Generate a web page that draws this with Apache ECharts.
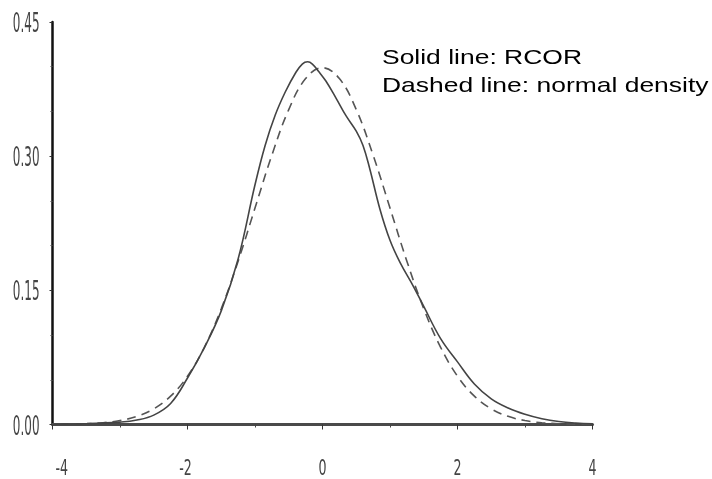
<!DOCTYPE html>
<html>
<head>
<meta charset="utf-8">
<script src="https://cdn.jsdelivr.net/npm/echarts@6/dist/echarts.min.js"></script>
<style>
html,body{margin:0;padding:0;background:#fff;}
#chart{width:712px;height:479px;}
</style>
</head>
<body>
<div id="chart"></div>
<script>
// Tick labels
var xTicks = [-4, -2, 0, 2, 4];
var yTicks = ["0.00", "0.15", "0.30", "0.45"];

// Solid line: RCOR density (x, y)
var rcorX = [-4.0,-3.5,-3.0,-2.75,-2.5,-2.25,-2.0,-1.75,-1.5,-1.25,-1.0,-0.85,-0.7,-0.55,-0.4,-0.3,-0.22,-0.15,-0.05,0.05,0.2,0.35,0.5,0.6,0.7,0.85,1.0,1.15,1.35,1.5,1.75,2.0,2.25,2.5,2.75,3.0,3.25,3.5,3.75,4.0];
var rcorY = [0.0003,0.0009,0.0027,0.0050,0.0105,0.0235,0.052,0.086,0.127,0.185,0.268,0.312,0.346,0.372,0.393,0.403,0.4055,0.403,0.394,0.384,0.365,0.345,0.328,0.312,0.286,0.241,0.206,0.181,0.154,0.132,0.096,0.070,0.0453,0.0287,0.0185,0.0115,0.0065,0.0033,0.0016,0.0008];

// Dashed line: normal density (x, y)
var normX = [-4.0,-3.75,-3.5,-3.25,-3.0,-2.75,-2.5,-2.25,-2.0,-1.75,-1.5,-1.25,-1.0,-0.75,-0.5,-0.25,0.0,0.25,0.5,0.75,1.0,1.25,1.5,1.75,2.0,2.25,2.5,2.75,3.0,3.25,3.5,3.75,4.0];
var normY = [0.0001,0.0004,0.0009,0.0020,0.0044,0.0091,0.0175,0.0317,0.0540,0.0863,0.1295,0.1826,0.2420,0.3011,0.3521,0.3867,0.3989,0.3867,0.3521,0.3011,0.2420,0.1826,0.1295,0.0863,0.0540,0.0317,0.0175,0.0091,0.0044,0.0020,0.0009,0.0004,0.0001];

var legendLines = ["Solid line: RCOR", "Dashed line: normal density"];

function pairs(xs, ys){ return xs.map(function(x,i){ return [x, ys[i]]; }); }

var tickFont = '14px "DejaVu Sans Condensed", "DejaVu Sans", sans-serif';
var legendFont = '21px "Liberation Sans", Arial, sans-serif';

var chart = echarts.init(document.getElementById('chart'), null, {renderer:'canvas'});
chart.setOption({
  animation: false,
  backgroundColor: '#ffffff',
  grid: {left: 52.5, right: 119.5, top: 22, bottom: 54.5, containLabel: false},
  xAxis: {
    type: 'value', min: -4, max: 4, interval: 2,
    axisLine: {show: true, onZero: false, lineStyle: {color: '#4a4a4a', width: 3}},
    axisTick: {show: true, inside: false, length: 5, lineStyle: {color: '#333', width: 1}},
    minorTick: {show: true, splitNumber: 2, length: 3, lineStyle: {color: '#444', width: 1}},
    splitLine: {show: false},
    axisLabel: {show: false}
  },
  yAxis: {
    type: 'value', min: 0, max: 0.45, interval: 0.15,
    axisLine: {show: true, onZero: false, lineStyle: {color: '#111', width: 2.5}},
    axisTick: {show: true, inside: false, length: 3, lineStyle: {color: '#333', width: 1}},
    minorTick: {show: true, splitNumber: 3, length: 2, lineStyle: {color: '#555', width: 1}},
    splitLine: {show: false},
    axisLabel: {show: false}
  },
  series: [
    {
      name: 'normal density', type: 'line', data: pairs(normX, normY),
      showSymbol: false, smooth: 0.4, z: 2,
      lineStyle: {color: '#555', width: 1.6, type: [9, 6]}
    },
    {
      name: 'RCOR', type: 'line', data: pairs(rcorX, rcorY),
      showSymbol: false, smooth: 0.4, z: 3,
      lineStyle: {color: '#444', width: 1.6, type: 'solid'}
    }
  ]
});

// Tick labels (tall, narrow lettering as in the original), placed through the axis scales
var g = [];
var axisY = chart.convertToPixel({yAxisIndex: 0}, 0);
var axisX = chart.convertToPixel({xAxisIndex: 0}, -4);
yTicks.forEach(function(t){
  var py = chart.convertToPixel({yAxisIndex: 0}, parseFloat(t));
  g.push({type: 'text', x: axisX - 13, y: py + 3, scaleX: 0.95, scaleY: 1.95, z: 10,
    style: {text: t, textAlign: 'right', textVerticalAlign: 'middle', font: tickFont, fill: '#444'}});
});
xTicks.forEach(function(v, i){
  var px = chart.convertToPixel({xAxisIndex: 0}, v);
  var first = (i === 0);
  g.push({type: 'text', x: first ? px + 3 : px + (v < 0 ? -2 : 0), y: axisY + 45, scaleX: 1, scaleY: 1.5, z: 10,
    style: {text: String(v), textAlign: first ? 'left' : 'center', textVerticalAlign: 'middle', font: tickFont, fill: '#444'}});
});
// Legend notes
g.push({type: 'text', x: 382, y: 58, scaleX: 1.26, scaleY: 1, z: 10,
  style: {text: legendLines[0], textAlign: 'left', textVerticalAlign: 'middle', font: legendFont, fill: '#000'}});
g.push({type: 'text', x: 382, y: 86.5, scaleX: 1.26, scaleY: 1, z: 10,
  style: {text: legendLines[1], textAlign: 'left', textVerticalAlign: 'middle', font: legendFont, fill: '#000'}});
chart.setOption({graphic: g});
</script>
</body>
</html>
